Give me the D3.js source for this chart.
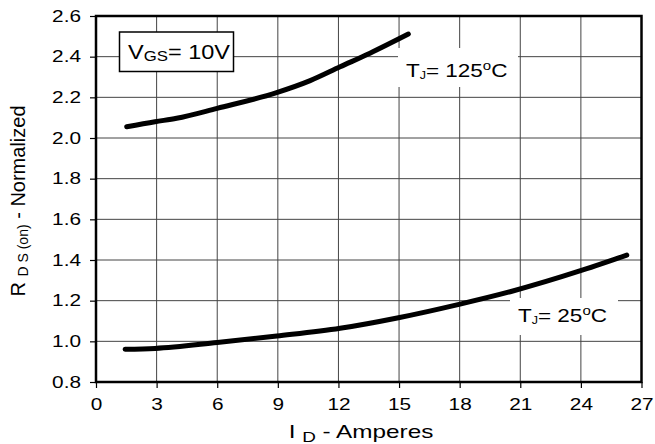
<!DOCTYPE html>
<html lang="en">
<head>
<meta charset="utf-8">
<script src="https://d3js.org/d3.v7.min.js"></script>
<style>
	body { margin: 0; background: #fff; font-family: "Liberation Sans", Arial, sans-serif; }
	svg { display: block; }
	text { font-family: "Liberation Sans", Arial, sans-serif; fill: #000; }
</style>
</head>
<body>
<script>
var width = 655, height = 444;
var margin = {left: 96, right: 13.5, top: 16, bottom: 62};

// chart data
var xTicks = [0, 3, 6, 9, 12, 15, 18, 21, 24, 27];
var yTicks = [0.8, 1.0, 1.2, 1.4, 1.6, 1.8, 2.0, 2.2, 2.4, 2.6];
var id125 = [1.52, 2.92, 3.99, 6.0, 8.94, 10.6, 12.08, 13.56, 15.46];
var r125  = [2.055, 2.08, 2.097, 2.146, 2.223, 2.282, 2.35, 2.417, 2.511];
var id25  = [1.44, 2.92, 6.0, 8.95, 12.08, 14.97, 18.02, 20.5, 24.1, 26.27];
var r25   = [0.961, 0.965, 0.994, 1.026, 1.064, 1.116, 1.183, 1.244, 1.351, 1.424];

var svg = d3.select("body").append("svg")
	.attr("width", width)
	.attr("height", height);

var x = d3.scaleLinear().domain([0, 27]).range([margin.left, width - margin.right]);
var y = d3.scaleLinear().domain([0.8, 2.6]).range([height - margin.bottom, margin.top]);

// the original text is stretched sideways
var sx = 1.3;

// grid
svg.append("g").selectAll("line").data(xTicks.slice(1, -1)).enter().append("line")
	.attr("x1", d => x(d)).attr("x2", d => x(d))
	.attr("y1", y(0.8)).attr("y2", y(2.6))
	.attr("stroke", "#444").attr("stroke-width", 1);
svg.append("g").selectAll("line").data(yTicks.slice(1, -1)).enter().append("line")
	.attr("x1", x(0)).attr("x2", x(27))
	.attr("y1", d => y(d)).attr("y2", d => y(d))
	.attr("stroke", "#444").attr("stroke-width", 1);

// axes
var xAxis = d3.axisBottom(x).tickValues(xTicks).tickSize(6).tickPadding(11).tickFormat(d3.format("d"));
var yAxis = d3.axisLeft(y).tickValues(yTicks).tickSize(6).tickPadding(9).tickFormat(d3.format(".1f"));

var gx = svg.append("g").attr("transform", "translate(0," + y(0.8) + ")").call(xAxis);
var gy = svg.append("g").attr("transform", "translate(" + x(0) + ",0)").call(yAxis);
[gx, gy].forEach(function(g) {
	g.select(".domain").remove();
	g.selectAll(".tick line").attr("stroke", "#000").attr("stroke-width", 1.2);
	g.selectAll(".tick text").attr("fill", "#000")
		.style("font-family", "Liberation Sans, Arial, sans-serif")
		.style("font-size", "16px")
		.attr("transform", "scale(" + sx + ",1)");
});
gy.selectAll(".tick text").attr("x", -15 / sx);

// frame
svg.append("rect")
	.attr("x", x(0)).attr("y", y(2.6))
	.attr("width", x(27) - x(0)).attr("height", y(0.8) - y(2.6))
	.attr("fill", "none").attr("stroke", "#000").attr("stroke-width", 2.5);

// curve labels with white backing (drawn before curves)
function tjLabel(lx, by, temp, bx, by0, bw, bh) {
	svg.append("rect").attr("x", bx).attr("y", by0).attr("width", bw).attr("height", bh).attr("fill", "#fff");
	var t = svg.append("text").attr("transform", "translate(" + lx + "," + by + ") scale(1.25,1)")
		.style("font-size", "18px");
	t.append("tspan").text("T");
	t.append("tspan").attr("dy", 2).style("font-size", "10px").text("J");
	t.append("tspan").attr("dy", -2).text("= " + temp);
	t.append("tspan").attr("dy", -7).style("font-size", "12px").text("o");
	t.append("tspan").attr("dy", 7).text("C");
}
tjLabel(406, 77, "125", 398, 48, 120, 39);
tjLabel(518, 322, "25", 510, 298, 108, 37);

// curves
var line = d3.line().x(d => x(d[0])).y(d => y(d[1])).curve(d3.curveMonotoneX);
svg.append("path").datum(d3.zip(id125, r125)).attr("d", line)
	.attr("fill", "none").attr("stroke", "#000").attr("stroke-width", 5).attr("stroke-linecap", "round");
svg.append("path").datum(d3.zip(id25, r25)).attr("d", line)
	.attr("fill", "none").attr("stroke", "#000").attr("stroke-width", 5).attr("stroke-linecap", "round");

// VGS box
svg.append("rect").attr("x", 119.5).attr("y", 32).attr("width", 114).attr("height", 39.5)
	.attr("fill", "#fff").attr("stroke", "#000").attr("stroke-width", 1.5);
var v = svg.append("text").attr("transform", "translate(128,59) scale(1.12,1)")
	.style("font-size", "21px");
v.append("tspan").text("V");
v.append("tspan").attr("dy", 2).style("font-size", "15px").text("GS");
v.append("tspan").attr("dy", -2).text("= 10V");

// axis titles
var xl = svg.append("text").attr("transform", "translate(361,438) scale(1.35,1)").attr("text-anchor", "middle")
	.style("font-size", "18px");
xl.append("tspan").text("I ");
xl.append("tspan").attr("dy", 4).style("font-size", "14px").text("D");
xl.append("tspan").attr("dy", -4).text(" - Amperes");

var yl = svg.append("text").attr("transform", "translate(25,201) rotate(-90)").attr("text-anchor", "middle")
	.style("font-size", "20px");
yl.append("tspan").text("R ");
yl.append("tspan").attr("dy", 3).style("font-size", "14px").text("D S (on)");
yl.append("tspan").attr("dy", -3).text(" - Normalized");
</script>
</body>
</html>
